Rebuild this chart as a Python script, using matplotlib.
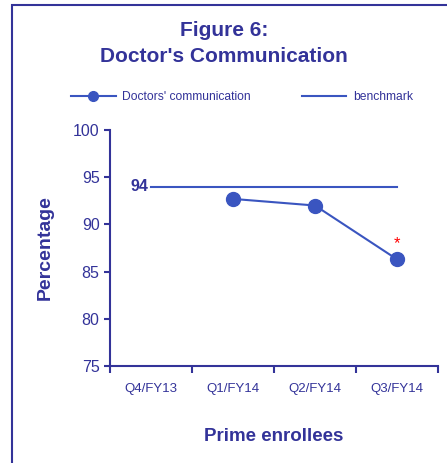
import matplotlib
matplotlib.use("Agg")

import matplotlib.pyplot as plt
from matplotlib.patches import Rectangle

plt.rcParams["font.family"] = ["Liberation Sans", "DejaVu Sans"]

quarters = ["Q4/FY13", "Q1/FY14", "Q2/FY14", "Q3/FY14"]
comm_quarters = ["Q1/FY14", "Q2/FY14", "Q3/FY14"]
comm_values = [92.7, 92.0, 86.3]
benchmark = 94
significant = ["Q3/FY14"]

text_col = "#333399"
line_col = "#3a55c0"

W, H = 447, 463
fig = plt.figure(figsize=(W / 100, H / 100), dpi=100)

# frame around the whole figure
fig.patches.append(Rectangle((12 / W, -0.05), 1.0, 1 - 5 / H + 0.05,
                             transform=fig.transFigure, fill=False,
                             edgecolor=text_col, linewidth=1.5))

ax = fig.add_axes([110 / W, 1 - 366 / H, (438 - 110) / W, (366 - 130) / H])

xpos = {q: i for i, q in enumerate(quarters)}
xs = [xpos[q] for q in comm_quarters]
ax.plot(xs, comm_values, color=line_col, linewidth=1.5, marker="o",
        markersize=10, label="Doctors' communication")
ax.plot([0, len(quarters) - 1], [benchmark, benchmark], color=line_col,
        linewidth=1.5, label="benchmark")
ax.text(-0.03, benchmark, str(benchmark), ha="right", va="center",
        fontsize=11.5, fontweight="bold", color=text_col)

for q in significant:
    v = comm_values[comm_quarters.index(q)]
    ax.text(xpos[q], v + 1.7, "*", ha="center", va="center", color="red",
            fontsize=12)

ax.set_xlim(-0.5, len(quarters) - 0.5)
ax.set_ylim(75, 100)
ax.set_yticks(range(75, 101, 5))
ax.set_xticks(range(len(quarters)))
ax.set_xticklabels(quarters)
ax.set_xticks([i - 0.5 for i in range(len(quarters) + 1)], minor=True)
ax.tick_params(axis="x", which="major", length=0, pad=12, labelsize=9.5,
               labelcolor=text_col)
ax.tick_params(axis="x", which="minor", length=5, direction="out",
               color=text_col, width=1.5)
ax.tick_params(axis="y", length=4, direction="out", color=text_col,
               width=1.5, labelsize=11.5, labelcolor=text_col)

for s in ["top", "right"]:
    ax.spines[s].set_visible(False)
for s in ["left", "bottom"]:
    ax.spines[s].set_color(text_col)
    ax.spines[s].set_linewidth(1.5)

ax.set_ylabel("Percentage", fontsize=14, fontweight="bold", color=text_col,
              labelpad=14)
ax.set_xlabel("Prime enrollees", fontsize=13.5, fontweight="bold",
              color=text_col, labelpad=24)

fig.text(224 / W, 1 - 31 / H, "Figure 6:", ha="center", va="center",
         fontsize=15, fontweight="bold", color=text_col)
fig.text(224 / W, 1 - 57 / H, "Doctor's Communication", ha="center",
         va="center", fontsize=15, fontweight="bold", color=text_col)

fig.legend(loc="center", bbox_to_anchor=(242 / W, 1 - 97 / H), ncol=2,
           frameon=False, fontsize=8.7, labelcolor=text_col, columnspacing=4.2,
           handlelength=3.7, handletextpad=0.55, markerscale=0.7)

fig.savefig("out.png", dpi=100)
